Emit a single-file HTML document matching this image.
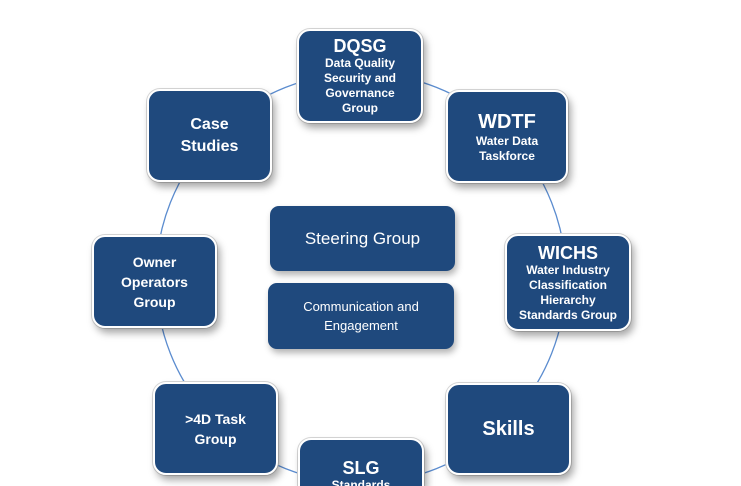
<!DOCTYPE html>
<html><head><meta charset="utf-8"><style>
html,body{margin:0;padding:0;background:#fff;width:741px;height:486px;overflow:hidden;position:relative;font-family:"Liberation Sans",Arial,sans-serif}
.b{position:absolute;box-sizing:border-box;background:#1f497d;border:2.5px solid #fff;border-radius:13px;box-shadow:3px 5px 8px rgba(0,0,0,0.35),0 0 0 1px #d8d8d8;color:#fff;text-align:center;display:flex;flex-direction:column;justify-content:center;font-weight:bold;font-size:12px;line-height:15px}
.b .t{font-size:18px;line-height:20px}
.c{position:absolute;box-sizing:border-box;background:#1f497d;border-radius:9px;box-shadow:2px 4px 7px rgba(0,0,0,0.3);color:#fff;text-align:center;display:flex;flex-direction:column;justify-content:center}
</style></head><body>
<svg width="741" height="486" style="position:absolute;left:0;top:0">
<circle cx="361" cy="278" r="205" fill="none" stroke="#5b8ccf" stroke-width="1.3"/>
</svg>
<div class="b" style="left:297px;top:29px;width:126px;height:94px"><div class="t">DQSG</div><div>Data Quality<br>Security and<br>Governance<br>Group</div></div>
<div class="b" style="left:446px;top:90px;width:122px;height:93px"><div class="t" style="font-size:20px;line-height:24px">WDTF</div><div>Water Data<br>Taskforce</div></div>
<div class="b" style="left:147px;top:89px;width:125px;height:93px;font-size:16px;line-height:22px">Case<br>Studies</div>
<div class="b" style="left:92px;top:235px;width:125px;height:93px;font-size:14px;line-height:20px">Owner<br>Operators<br>Group</div>
<div class="b" style="left:505px;top:234px;width:126px;height:97px"><div class="t">WICHS</div><div>Water Industry<br>Classification<br>Hierarchy<br>Standards Group</div></div>
<div class="b" style="left:153px;top:382px;width:125px;height:93px;font-size:14px;line-height:20px">&gt;4D Task<br>Group</div>
<div class="b" style="left:446px;top:383px;width:125px;height:92px;font-size:20px">Skills</div>
<div class="b" style="left:298px;top:438px;width:126px;height:48px;justify-content:flex-start;padding-top:18px;overflow:hidden;border-bottom:none;border-bottom-left-radius:0;border-bottom-right-radius:0"><div class="t">SLG</div><div>Standards</div></div>
<div class="c" style="left:270px;top:206px;width:185px;height:65px;font-size:17px">Steering Group</div>
<div class="c" style="left:268px;top:283px;width:186px;height:66px;font-size:13px;line-height:19px">Communication and<br>Engagement</div>
</body></html>
